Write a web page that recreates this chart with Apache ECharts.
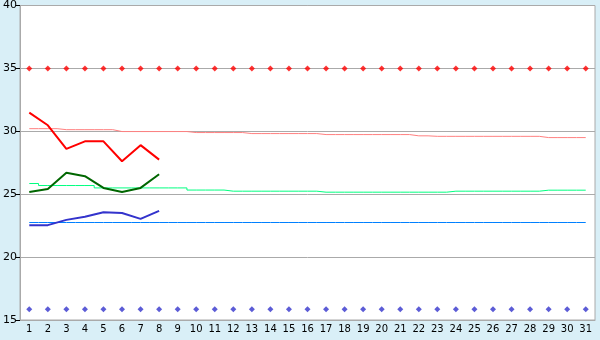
<!DOCTYPE html>
<html>
<head>
<meta charset="utf-8">
<script src="https://cdn.jsdelivr.net/npm/echarts@6/dist/echarts.min.js"></script>
<style>
html,body{margin:0;padding:0;background:#d9eff7;}
#c{width:600px;height:340px;}
</style>
</head>
<body>
<div id="c"></div>
<script>
var days = [];
for (var i = 1; i <= 31; i++) days.push(String(i));
var yTicks = [15, 20, 25, 30, 35, 40];

var redValues   = [31.48, 30.48, 28.6, 29.2, 29.2, 27.62, 28.9, 27.75];
var greenValues = [25.18, 25.42, 26.7, 26.43, 25.5, 25.18, 25.5, 26.59];
var blueValues  = [22.54, 22.54, 22.96, 23.2, 23.57, 23.5, 23.04, 23.67];

var normRed = [30.21, 30.21, 30.13, 30.13, 30.13, 29.98, 29.98, 29.98, 29.98,
  29.90, 29.90, 29.90, 29.82, 29.82, 29.82, 29.82, 29.74, 29.74, 29.74, 29.74, 29.74,
  29.64, 29.60, 29.60, 29.60, 29.60, 29.60, 29.60, 29.50, 29.50, 29.50];
var normGreen = [25.85, 25.69, 25.69, 25.69, 25.5, 25.5, 25.5, 25.5, 25.5,
  25.33, 25.33, 25.24, 25.24, 25.24, 25.24, 25.24, 25.16, 25.16, 25.16, 25.16, 25.16,
  25.16, 25.16, 25.24, 25.24, 25.24, 25.24, 25.24, 25.32, 25.32, 25.32];
var normBlue = [22.75, 22.75, 22.75, 22.75, 22.75, 22.75, 22.75, 22.75, 22.75,
  22.75, 22.75, 22.75, 22.75, 22.75, 22.75, 22.75, 22.75, 22.75, 22.75, 22.75, 22.75,
  22.75, 22.75, 22.75, 22.75, 22.75, 22.75, 22.75, 22.75, 22.75, 22.75];
var upperMarks = [35, 35, 35, 35, 35, 35, 35, 35, 35, 35, 35, 35, 35, 35, 35, 35,
  35, 35, 35, 35, 35, 35, 35, 35, 35, 35, 35, 35, 35, 35, 35];
var lowerMarks = [15.85, 15.85, 15.85, 15.85, 15.85, 15.85, 15.85, 15.85, 15.85, 15.85,
  15.85, 15.85, 15.85, 15.85, 15.85, 15.85, 15.85, 15.85, 15.85, 15.85, 15.85, 15.85,
  15.85, 15.85, 15.85, 15.85, 15.85, 15.85, 15.85, 15.85, 15.85];

var chart = echarts.init(document.getElementById('c'), null, {renderer: 'canvas'});
var font = 'DejaVu Sans';
chart.setOption({
  animation: false,
  backgroundColor: '#d9eff7',
  grid: {left: 20, right: 5, top: 5, bottom: 20, show: true, backgroundColor: '#ffffff',
         borderColor: '#aaaaaa', borderWidth: 1, containLabel: false},
  xAxis: {
    type: 'category', data: days, boundaryGap: true,
    axisLine: {lineStyle: {color: '#aaaaaa', width: 1}},
    axisTick: {alignWithLabel: true, length: 5, lineStyle: {color: '#000000'}},
    axisLabel: {color: '#000', fontFamily: font, fontSize: 10, margin: 4, interval: 0},
    splitLine: {show: false}
  },
  yAxis: {
    type: 'value', min: yTicks[0], max: yTicks[yTicks.length - 1], interval: 5,
    axisLine: {show: true, lineStyle: {color: '#aaaaaa', width: 1}},
    axisTick: {show: true, length: 4, lineStyle: {color: '#000000'}},
    axisLabel: {color: '#000', fontFamily: font, fontSize: 11, margin: 3},
    splitLine: {show: true, lineStyle: {color: '#aaaaaa', width: 1}}
  },
  series: [
    {type: 'line', data: normBlue, step: 'middle', symbol: 'none', lineStyle: {color: '#0080ff', width: 1}, z: 2},
    {type: 'line', data: normGreen, step: 'middle', symbol: 'none', lineStyle: {color: '#00ff80', width: 1}, z: 2},
    {type: 'line', data: normRed, step: 'middle', symbol: 'none', lineStyle: {color: '#ff8080', width: 1}, z: 2},
    {type: 'line', data: blueValues, symbol: 'none', lineStyle: {color: '#3333cc', width: 2}, z: 3},
    {type: 'line', data: greenValues, symbol: 'none', lineStyle: {color: '#006600', width: 2}, z: 3},
    {type: 'line', data: redValues, symbol: 'none', lineStyle: {color: '#ff0000', width: 2}, z: 3},
    {type: 'scatter', data: upperMarks, symbol: 'diamond', symbolSize: 6, itemStyle: {color: '#ff0000'}, z: 4},
    {type: 'scatter', data: lowerMarks, symbol: 'diamond', symbolSize: 6, itemStyle: {color: '#3333cc'}, z: 4}
  ]
});
</script>
</body>
</html>
